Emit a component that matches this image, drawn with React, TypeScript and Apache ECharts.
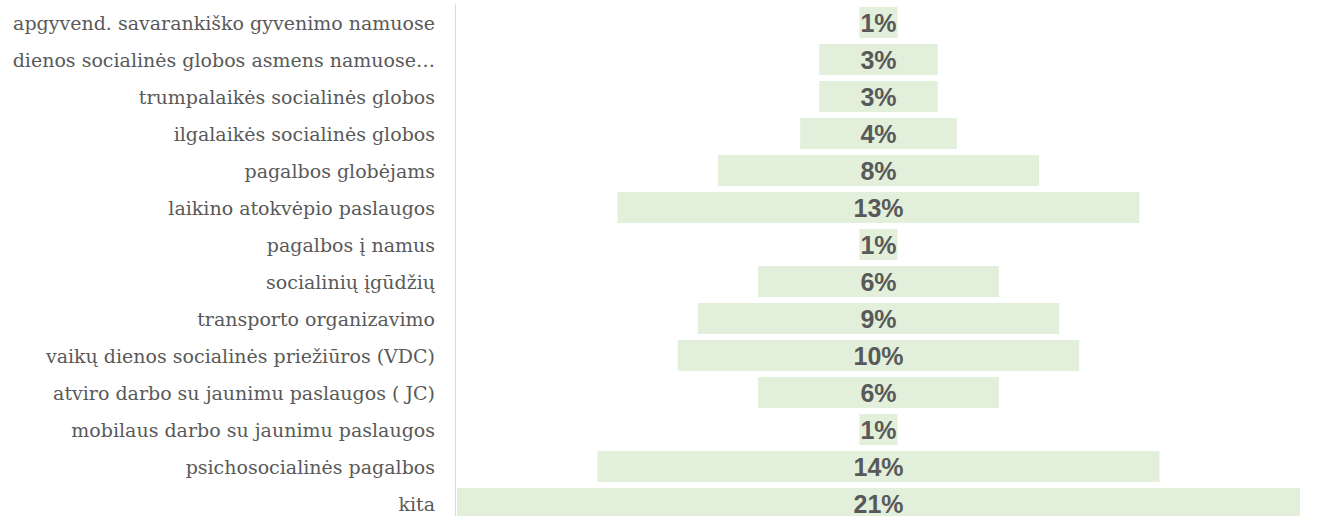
import React, { useEffect, useRef } from "react";
import * as echarts from "echarts";

const categories = [
  "apgyvend. savarankiško gyvenimo namuose",
  "dienos socialinės globos asmens namuose…",
  "trumpalaikės socialinės globos",
  "ilgalaikės socialinės globos",
  "pagalbos globėjams",
  "laikino atokvėpio paslaugos",
  "pagalbos į namus",
  "socialinių įgūdžių",
  "transporto organizavimo",
  "vaikų dienos socialinės priežiūros (VDC)",
  "atviro darbo su jaunimu paslaugos ( JC)",
  "mobilaus darbo su jaunimu paslaugos",
  "psichosocialinės pagalbos",
  "kita",
];

const values = [0.95, 2.95, 2.95, 3.9, 8.0, 13.0, 0.95, 6.0, 9.0, 10.0, 6.0, 0.95, 14.0, 21.0];
const labels = ["1%", "3%", "3%", "4%", "8%", "13%", "1%", "6%", "9%", "10%", "6%", "1%", "14%", "21%"];

const axisMax = 21.1;

export default function App() {
  const ref = useRef<HTMLDivElement>(null);
  useEffect(() => {
    if (!ref.current) return;
    const chart = echarts.init(ref.current, undefined, { renderer: "svg" });
    const offsets = values.map((v) => (axisMax - v) / 2);
    chart.setOption({
      animation: false,
      grid: { left: 455, top: 4, width: 847, height: 518, containLabel: false, outerBoundsMode: "none" },
      xAxis: {
        type: "value",
        min: 0,
        max: axisMax,
        show: false,
      },
      yAxis: {
        type: "category",
        inverse: true,
        data: categories,
        axisLine: { show: true, lineStyle: { color: "#d9d9d9", width: 1 } },
        axisTick: { show: false },
        axisLabel: {
          color: "#595959",
          fontFamily: "DejaVu Serif",
          fontSize: 19,
          margin: 20,
        },
      },
      series: [
        {
          type: "bar",
          stack: "a",
          data: offsets,
          itemStyle: { color: "transparent" },
          barCategoryGap: "16%",
          silent: true,
        },
        {
          type: "bar",
          stack: "a",
          data: values,
          barCategoryGap: "16%",
          itemStyle: { color: "#e2efda" },
          label: {
            show: true,
            position: "inside",
            color: "#595959",
            fontFamily: "Arial",
            fontWeight: "bold",
            fontSize: 25,
            formatter: (p: any) => labels[p.dataIndex],
          },
        },
      ],
    });
    return () => chart.dispose();
  }, []);
  return (
    <div
      ref={ref}
      style={{ position: "fixed", left: 0, top: 0, width: 1318, height: 516, background: "#fff" }}
    />
  );
}
